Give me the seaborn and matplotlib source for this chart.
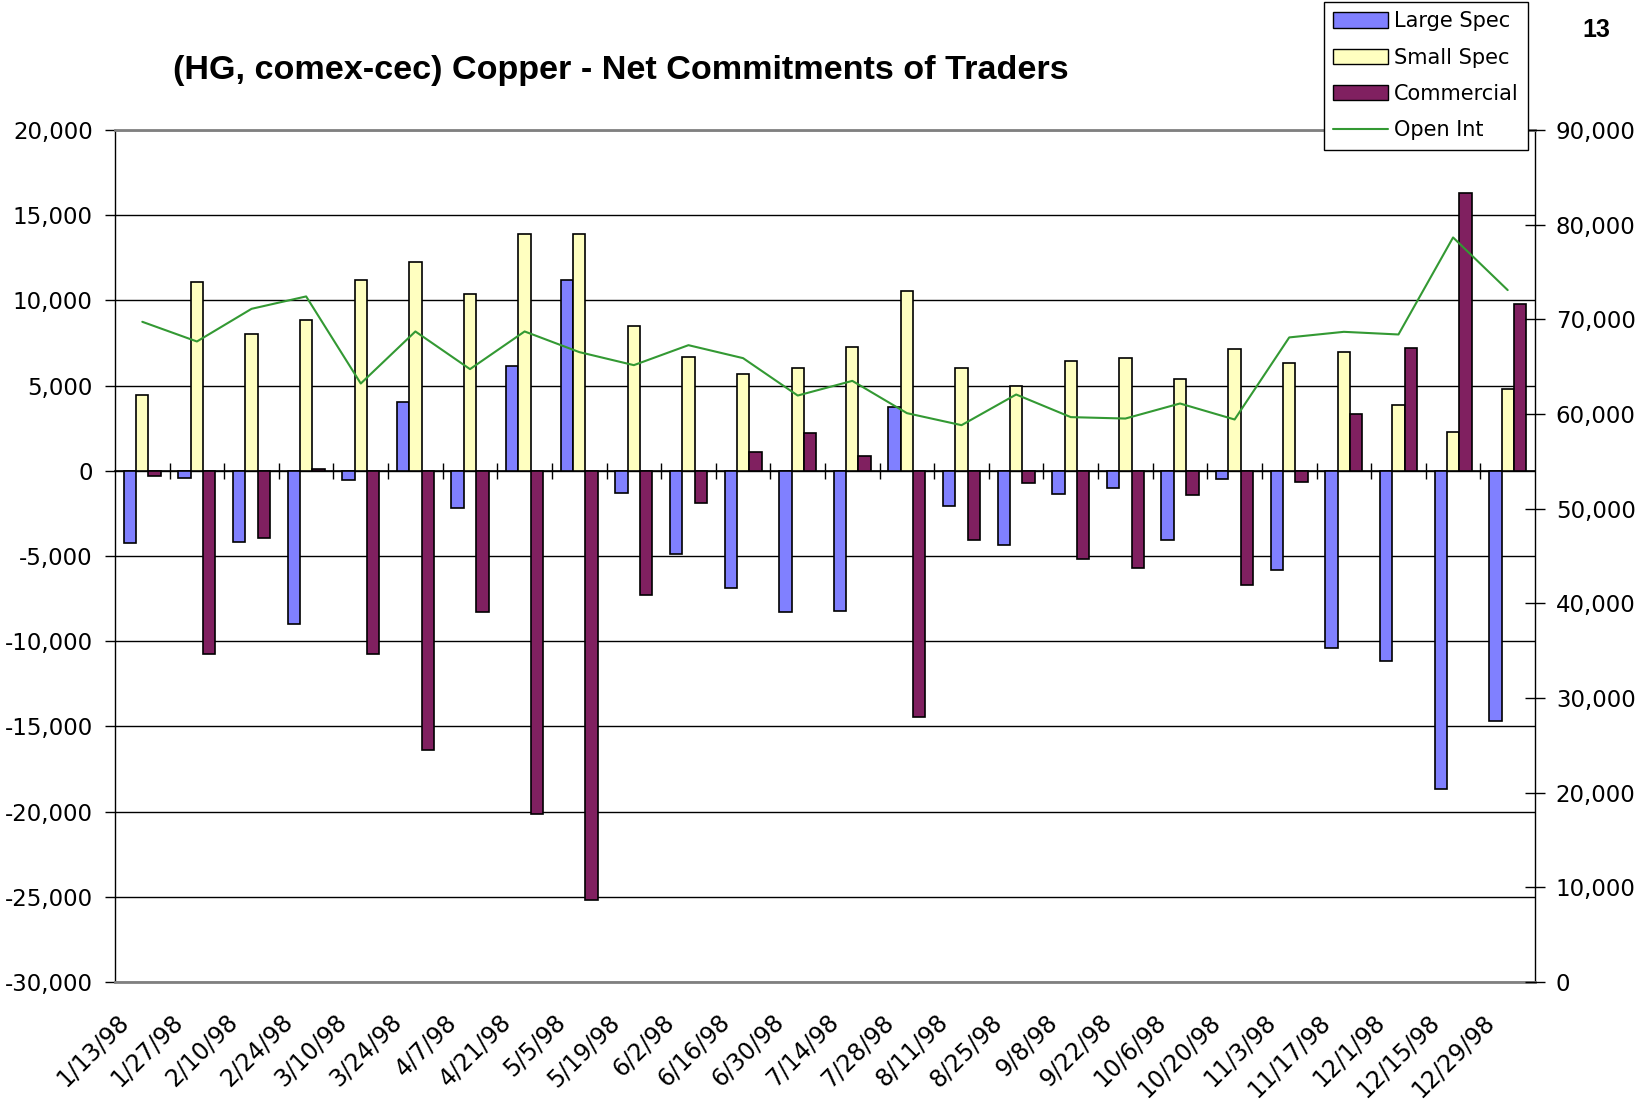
import numpy as np
import pandas as pd
import matplotlib
matplotlib.use("Agg")
import matplotlib.pyplot as plt
from matplotlib.patches import Patch
from matplotlib.lines import Line2D
from matplotlib.ticker import FuncFormatter
from matplotlib.transforms import ScaledTranslation
import seaborn as sns

# datos (HG, comex-cec) Copper
dates = ["1/13/98", "1/27/98", "2/10/98", "2/24/98", "3/10/98", "3/24/98", "4/7/98",
         "4/21/98", "5/5/98", "5/19/98", "6/2/98", "6/16/98", "6/30/98", "7/14/98",
         "7/28/98", "8/11/98", "8/25/98", "9/8/98", "9/22/98", "10/6/98", "10/20/98",
         "11/3/98", "11/17/98", "12/1/98", "12/15/98", "12/29/98"]
large_spec = [-4240, -400, -4200, -8980, -520, 4065, -2160, 6140, 11190, -1320, -4905,
              -6850, -8290, -8250, 3750, -2045, -4360, -1340, -1030, -4065, -500, -5805,
              -10390, -11150, -18690, -14700]
small_spec = [4435, 11060, 8040, 8840, 11170, 12250, 10350, 13910, 13910, 8490, 6690,
              5670, 6020, 7275, 10565, 6020, 4965, 6430, 6630, 5395, 7120, 6355, 6980,
              3890, 2300, 4810]
commercial = [-300, -10760, -3950, 80, -10760, -16380, -8260, -20120, -25170, -7295,
              -1870, 1130, 2220, 890, -14420, -4065, -695, -5180, -5710, -1420, -6710,
              -655, 3320, 7180, 16300, 9765]
open_int = [69740, 67660, 71110, 72420, 63220, 68720, 64740, 68720, 66540, 65160, 67270,
            65900, 61950, 63500, 60090, 58820, 62060, 59670, 59520, 61110, 59420, 68090,
            68680, 68400, 78650, 73090]

series = ["Large Spec", "Small Spec", "Commercial"]
colors = {"Large Spec": "#8080FF", "Small Spec": "#FFFFC0", "Commercial": "#802060"}
line_color = "#339933"

wide = pd.DataFrame({"date": dates, "Large Spec": large_spec,
                     "Small Spec": small_spec, "Commercial": commercial})
df = wide.melt(id_vars="date", var_name="series", value_name="value")

sns.set_theme(style="white")
plt.rcParams["font.family"] = ["DejaVu Sans"]
plt.rcParams.update({"text.color": "black", "axes.labelcolor": "black",
                     "xtick.color": "black", "ytick.color": "black"})

fig = plt.figure(figsize=(16.48, 11.03), dpi=100)
ax = fig.add_axes([115 / 1648, 1 - 982 / 1103, 1420 / 1648, 852 / 1103])

sns.barplot(data=df, x="date", y="value", hue="series", hue_order=series,
            palette=colors, saturation=1, width=0.68, gap=0, errorbar=None,
            edgecolor="black", linewidth=1.2, legend=False, ax=ax, zorder=3)

n = len(dates)
ax.set_xlim(-0.5, n - 0.5)
ax.set_ylim(-30000, 20000)
ax.set_yticks(np.arange(-30000, 20001, 5000))
fmt = FuncFormatter(lambda v, p: f"{v:,.0f}")
ax.yaxis.set_major_formatter(fmt)
ax.yaxis.grid(True, color="black", lw=1)
ax.set_axisbelow(True)
ax.set_xlabel("")
ax.set_ylabel("")
ax.tick_params(axis="y", direction="out", length=7, width=1, color="black",
               labelsize=16.5, pad=9, left=True)
ax.tick_params(axis="x", length=0, labelsize=17, pad=20)
shift = ScaledTranslation(-9 / 100, 0, fig.dpi_scale_trans)
for lab in ax.get_xticklabels():
    lab.set_rotation(45)
    lab.set_ha("right")
    lab.set_transform(lab.get_transform() + shift)
for s in ["top", "bottom"]:
    ax.spines[s].set_color("#808080")
    ax.spines[s].set_linewidth(2)
for s in ["left", "right"]:
    ax.spines[s].set_color("black")
    ax.spines[s].set_linewidth(1)

# eje de categorias sobre el cero, con marcas entre fechas
zero = ax.secondary_xaxis(0, transform=ax.transData)
zero.set_xticks(np.arange(n - 1) + 0.5)
zero.set_xticklabels([])
zero.tick_params(direction="inout", length=12, width=1, color="black")
for sp in zero.spines.values():
    sp.set_color("black")
    sp.set_linewidth(1.2)

# interes abierto en el eje derecho
ax2 = ax.twinx()
sns.lineplot(x=np.arange(n), y=open_int, color=line_color, lw=1.5, ax=ax2, zorder=4)
ax2.set_ylim(0, 90000)
ax2.set_yticks(np.arange(0, 90001, 10000))
ax2.yaxis.set_major_formatter(fmt)
ax2.tick_params(axis="y", direction="inout", length=14, width=1, color="black",
                labelsize=16.5, pad=8, right=True)
ax2.grid(False)
ax2.set_ylabel("")
for s in ax2.spines.values():
    s.set_visible(False)
ax.set_xlim(-0.5, n - 0.5)

handles = [Patch(facecolor=colors[s], edgecolor="black", lw=1) for s in series]
handles.append(Line2D([], [], color=line_color, lw=1.5))
leg = fig.legend(handles, series + ["Open Int"], loc="upper right",
                 bbox_to_anchor=(1528 / 1648, 1 - 2 / 1103), frameon=True,
                 fancybox=False, edgecolor="black", framealpha=1, fontsize=15,
                 handlelength=2.6, handleheight=0.75, labelspacing=0.78,
                 borderpad=0.45, handletextpad=0.3, borderaxespad=0)
leg.get_frame().set_linewidth(1)

fig.text(0.377, 1 - 70 / 1103, "(HG, comex-cec) Copper - Net Commitments of Traders",
         fontsize=24.6, fontweight="bold", family="Liberation Sans",
         ha="center", va="center")
fig.text(1596 / 1648, 1 - 30 / 1103, "13", fontsize=18, fontweight="bold",
         family="Liberation Sans", ha="center", va="center")

fig.savefig("out.png", dpi=100)
